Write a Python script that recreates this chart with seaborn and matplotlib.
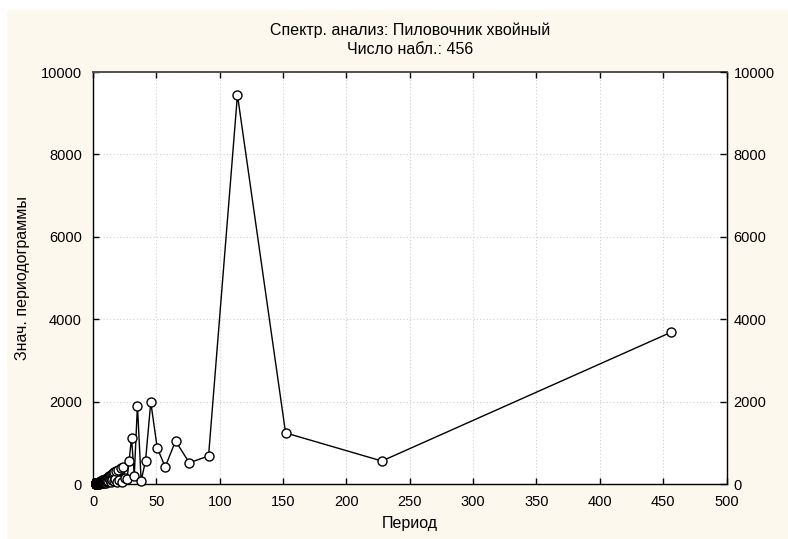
import numpy as np
import pandas as pd
import matplotlib
matplotlib.use("Agg")
import matplotlib.pyplot as plt
from matplotlib.patches import Rectangle
import seaborn as sns

# Number of observations in the series
n_obs = 456

# Periodogram values for harmonics k = 1, 2, ... (period = n_obs / k)
periodogram = [
    # k 1-15
    3680, 558, 1240, 9445, 680, 515, 1045, 413, 878, 1990, 562, 78, 1905, 205, 1125,
    # k 16-40
    560, 110, 150, 420, 60, 385, 95, 340, 45, 310, 125, 290, 70, 265, 105,
    240, 55, 225, 90, 200, 140, 205, 65, 170, 80,
    # k 41-80
    150, 40, 130, 95, 110, 30, 125, 60, 85, 105, 45, 90, 70, 35, 80, 55, 95, 25, 60, 75,
    40, 50, 85, 30, 65, 45, 20, 70, 55, 35, 60, 25, 50, 40, 15, 45, 60, 30, 35, 50,
    # k 81-120
    20, 40, 30, 55, 25, 35, 15, 45, 30, 20, 40, 25, 35, 10, 30, 45, 20, 25, 35, 15,
    30, 20, 40, 25, 10, 30, 20, 35, 15, 25, 30, 10, 20, 35, 25, 15, 30, 20, 10, 25,
    # k 121-160
    20, 30, 15, 25, 10, 20, 30, 15, 20, 25, 10, 15, 30, 20, 15, 25, 10, 20, 15, 25,
    20, 10, 15, 25, 20, 15, 10, 20, 25, 15, 10, 20, 15, 25, 10, 15, 20, 10, 15, 20,
    # k 161-200
    10, 15, 20, 10, 25, 15, 10, 20, 15, 10, 20, 15, 10, 15, 20, 10, 15, 10, 20, 15,
    10, 15, 20, 10, 15, 10, 15, 20, 10, 15, 10, 15, 10, 20, 15, 10, 15, 10, 15, 10,
    # k 201-228
    15, 10, 15, 10, 20, 10, 15, 10, 15, 10, 15, 10, 10, 15, 10, 15, 10, 10, 15, 10,
    15, 10, 10, 15, 10, 10, 15, 10,
]

title_lines = ["Спектр. анализ: Пиловочник хвойный", "Число набл.: 456"]
x_label = "Период"
y_label = "Знач. периодограммы"
x_ticks = [0, 50, 100, 150, 200, 250, 300, 350, 400, 450, 500]
y_ticks = [0, 2000, 4000, 6000, 8000, 10000]

harmonic = np.arange(1, len(periodogram) + 1)
df = pd.DataFrame({"period": n_obs / harmonic, "value": periodogram})

sns.set_theme(style="white")
plt.rcParams["font.family"] = ["Liberation Sans", "DejaVu Sans"]
plt.rcParams["font.size"] = 10.5
plt.rcParams["text.color"] = "black"
plt.rcParams["axes.labelcolor"] = "black"

W, H = 788, 539
fig = plt.figure(figsize=(W / 100, H / 100), dpi=100, facecolor="white")
# cream panel behind the chart
panel = Rectangle((7 / W, 0), 1 - 7 / W, 1 - 10 / H,
                  transform=fig.transFigure, facecolor="#fcf8ee",
                  edgecolor="none", zorder=-10)
fig.add_artist(panel)

left, right, top, bottom = 93 / W, 726.5 / W, 1 - 72 / H, 1 - 484 / H
ax = fig.add_axes([left, bottom, right - left, top - bottom])
ax.set_facecolor("white")

sns.lineplot(data=df, x="period", y="value", ax=ax, estimator=None, sort=True,
             color="black", linewidth=1.0, marker="o", markersize=6.5,
             markerfacecolor="white", markeredgecolor="black", markeredgewidth=1.0,
             zorder=3, clip_on=False)

ax.set_xlim(0, 500)
ax.set_ylim(0, 10000)
ax.set_xticks(x_ticks)
ax.set_yticks(y_ticks)
ax.grid(True, linestyle=(0, (1, 2)), color="#cfcfcf", linewidth=0.8)
ax.set_axisbelow(True)

for side in ["left", "right", "bottom"]:
    ax.spines[side].set_color("black")
    ax.spines[side].set_linewidth(1.0)
ax.spines["top"].set_color("#505050")
ax.spines["top"].set_linewidth(1.4)

ax.tick_params(axis="x", which="both", direction="in", length=4, width=1,
               top=True, bottom=True, pad=8, labelsize=10.5, colors="black")
ax.tick_params(axis="y", which="both", direction="in", length=4, width=1,
               left=True, right=False, pad=8, labelsize=10.5, colors="black")

ax_r = ax.twinx()
ax_r.set_ylim(ax.get_ylim())
ax_r.set_yticks(y_ticks)
ax_r.tick_params(axis="y", direction="in", length=4, width=1, pad=5,
                 labelsize=10.5, colors="black")
ax_r.grid(False)
ax_r.patch.set_visible(False)
for s in ax_r.spines.values():
    s.set_visible(False)

ax.set_xlabel(x_label, fontsize=11.5, labelpad=5)
ax.set_ylabel(y_label, fontsize=11.5, labelpad=8)

fig.text((left + right) / 2, 1 - 30 / H, title_lines[0], ha="center", va="center",
         fontsize=11.5, color="black")
fig.text((left + right) / 2, 1 - 50 / H, title_lines[1], ha="center", va="center",
         fontsize=11.5, color="black")

fig.savefig("out.png", dpi=100, facecolor=fig.get_facecolor())
